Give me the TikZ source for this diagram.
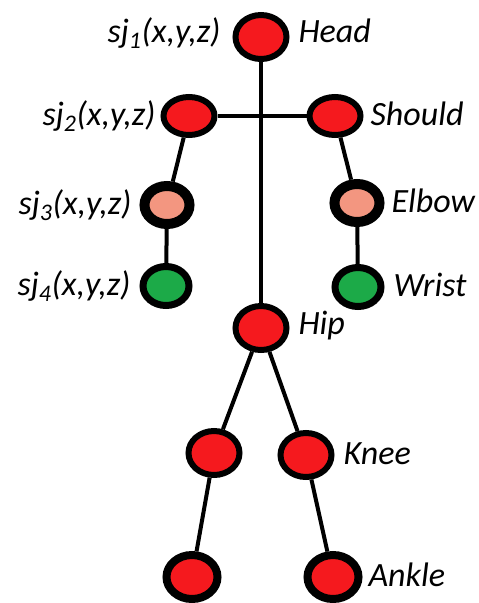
\documentclass[tikz,border=0pt]{standalone}
\usepackage{fontspec}
\setmainfont{Carlito}
\usetikzlibrary{shapes.geometric,positioning}
\definecolor{jred}{RGB}{245,25,30}
\definecolor{jpink}{RGB}{243,150,128}
\definecolor{jgreen}{RGB}{28,170,72}

\begin{document}
\begin{tikzpicture}[x=1pt,y=-1pt,line width=4pt,
  joint/.style={ellipse,draw=black,inner sep=0pt},
  redjoint/.style={joint,fill=jred,line width=6pt,minimum width=51pt,minimum height=44pt},
  pinkjoint/.style={joint,fill=jpink,line width=10pt,minimum width=45pt,minimum height=38pt},
  greenjoint/.style={joint,fill=jgreen,line width=7pt,minimum width=46pt,minimum height=39pt},
  lbl/.style={inner sep=0pt,text height=24pt,text depth=6pt,
    font=\fontsize{34}{40}\selectfont\itshape}]
  \useasboundingbox (0,0) rectangle (479,603);
  % joints
  \node[redjoint] (head) at (261,37) {};
  \node[redjoint,minimum height=38pt] (sj2) at (189,116) {};
  \node[redjoint,minimum height=38pt] (should) at (335,116) {};
  \node[pinkjoint] (sj3) at (167,205) {};
  \node[pinkjoint] (elbow) at (357,203) {};
  \node[greenjoint] (sj4) at (166,286) {};
  \node[greenjoint] (wrist) at (358,287) {};
  \node[redjoint] (hip) at (261,328) {};
  \node[redjoint] (kneel) at (214,453) {};
  \node[redjoint] (kneer) at (306,455) {};
  \node[redjoint,line width=8pt] (anklel) at (192,577) {};
  \node[redjoint,line width=8pt] (ankler) at (333,577) {};
  % bones
  \draw (head) -- (hip);
  \draw (sj2) -- (should);
  \draw (sj2) -- (sj3);
  \draw (sj3) -- (sj4);
  \draw (should) -- (elbow);
  \draw (elbow) -- (wrist);
  \draw (hip) -- (kneel);
  \draw (hip) -- (kneer);
  \draw (kneel) -- (anklel);
  \draw (kneer) -- (ankler);
  % labels
  \node[lbl,left=10pt of head,yshift=4pt] (sj1txt) {sj\textsubscript{1}(x,y,z)};
  \node[lbl,right=7pt of head,yshift=4pt] (headtxt) {Head};
  \node[lbl,left=3pt of sj2] (sj2txt) {sj\textsubscript{2}(x,y,z)};
  \node[lbl,right=5pt of should] (shouldtxt) {Should};
  \node[lbl,left=6pt of sj3] (sj3txt) {sj\textsubscript{3}(x,y,z)};
  \node[lbl,right=5pt of elbow] (elbowtxt) {Elbow};
  \node[lbl,left=7pt of sj4] (sj4txt) {sj\textsubscript{4}(x,y,z)};
  \node[lbl,right=7pt of wrist] (wristtxt) {Wrist};
  \node[lbl,right=7pt of hip,yshift=3pt] (hiptxt) {Hip};
  \node[lbl,right=7pt of kneer] (kneetxt) {Knee};
  \node[lbl,right=4pt of ankler] (ankletxt) {Ankle};
\end{tikzpicture}
\end{document}
